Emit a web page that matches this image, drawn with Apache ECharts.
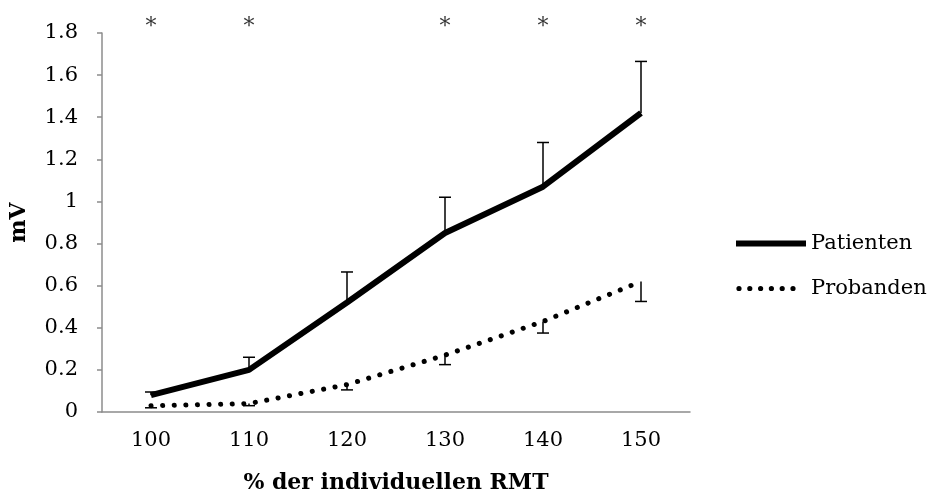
<!DOCTYPE html>
<html>
<head>
<meta charset="utf-8">
<script src="https://cdn.jsdelivr.net/npm/echarts@6/dist/echarts.min.js"></script>
<style>
html, body { margin: 0; padding: 0; background: #fff; }
#main { width: 936px; height: 495px; }
</style>
</head>
<body>
<div id="main"></div>
<script>
// Daten ---------------------------------------------------------------
var categories = ['100', '110', '120', '130', '140', '150'];
var patienten = [0.08, 0.20, 0.52, 0.85, 1.07, 1.42];
var patientenOben = [0.095, 0.26, 0.665, 1.02, 1.28, 1.665];
var probanden = [0.03, 0.04, 0.13, 0.27, 0.43, 0.62];
var probandenUnten = [0.02, 0.03, 0.105, 0.225, 0.375, 0.525];
var signifikant = ['100', '110', '130', '140', '150'];

var fontFam = 'DejaVu Serif';
var axisGray = '#8c8c8c';

var myChart = echarts.init(document.getElementById('main'));

// Fehlerbalken
function errBars(vals, ends) {
    var d = [];
    for (var i = 0; i < vals.length; i++) {
        d.push([i, vals[i], ends[i]]);
    }
    return d;
}
function renderErr(params, api) {
    var p1 = api.coord([api.value(0), api.value(1)]);
    var p2 = api.coord([api.value(0), api.value(2)]);
    var half = 6;
    return {
        type: 'group',
        children: [
            { type: 'line', shape: { x1: p1[0], y1: p1[1], x2: p2[0], y2: p2[1] }, style: { stroke: '#000', lineWidth: 1.5 } },
            { type: 'line', shape: { x1: p2[0] - half, y1: p2[1], x2: p2[0] + half, y2: p2[1] }, style: { stroke: '#000', lineWidth: 1.5 } }
        ]
    };
}

// Legenden-Icon: Punktlinie (Box 70x6)
var dotIcon = 'path://M0,0L0,0M70,6L70,6';
for (var k = 0; k < 6; k++) {
    var cx = 3 + k * 10.8;
    dotIcon += 'M' + (cx - 2.6) + ',3a2.6,2.6 0 1,0 5.2,0a2.6,2.6 0 1,0 -5.2,0Z';
}

var solidLine = { color: '#000', width: 6 };
var dotLine = { color: '#000', width: 5, type: [0.1, 11.5], cap: 'round' };

var option = {
    animation: false,
    backgroundColor: '#fff',
    grid: {
        left: 102,
        right: 246,
        top: 33,
        bottom: 83,
        outerBoundsMode: 'none'
    },
    legend: {
        orient: 'vertical',
        left: 731,
        top: 228,
        itemWidth: 70,
        itemHeight: 6,
        itemGap: 24,
        data: [
            { name: 'Patienten', icon: 'rect' },
            { name: 'Probanden', icon: dotIcon }
        ],
        textStyle: { fontFamily: fontFam, fontSize: 21, color: '#000' }
    },
    xAxis: {
        type: 'category',
        data: categories,
        name: '% der individuellen RMT',
        nameLocation: 'middle',
        nameGap: 60,
        nameTextStyle: { fontFamily: fontFam, fontSize: 22, fontWeight: 'bold', color: '#000' },
        axisLine: { lineStyle: { color: axisGray, width: 1.5 } },
        axisTick: { length: 5, lineStyle: { color: axisGray, width: 1.5 } },
        axisLabel: { margin: 18, fontFamily: fontFam, fontSize: 21, color: '#000' }
    },
    yAxis: {
        type: 'value',
        min: 0,
        max: 1.8,
        interval: 0.2,
        name: 'mV',
        nameLocation: 'middle',
        nameGap: 72,
        nameRotate: 90,
        nameTextStyle: { fontFamily: fontFam, fontSize: 22, fontWeight: 'bold', color: '#000' },
        axisLine: { show: true, lineStyle: { color: axisGray, width: 1.5 } },
        axisTick: { show: true, length: 5, lineStyle: { color: axisGray, width: 1.5 } },
        splitLine: { show: false },
        axisLabel: {
            margin: 24,
            fontFamily: fontFam,
            fontSize: 21,
            color: '#000',
            formatter: function (v) { return String(Math.round(v * 10) / 10); }
        }
    },
    series: [
        {
            name: 'Patienten',
            type: 'line',
            data: patienten,
            symbol: 'none',
            color: '#000',
            lineStyle: solidLine,
            z: 3
        },
        {
            name: 'Probanden',
            type: 'line',
            data: probanden,
            symbol: 'none',
            color: '#000',
            lineStyle: dotLine,
            z: 3
        },
        {
            type: 'custom',
            data: errBars(patienten, patientenOben),
            renderItem: renderErr,
            z: 2
        },
        {
            type: 'custom',
            data: errBars(probanden, probandenUnten),
            renderItem: renderErr,
            z: 2
        },
        {
            type: 'scatter',
            data: signifikant.map(function (c) { return [c, 1.8]; }),
            symbolSize: 0,
            clip: false,
            silent: true,
            label: {
                show: true,
                position: 'top',
                distance: 0,
                offset: [0, 5],
                formatter: '*',
                fontFamily: fontFam,
                fontSize: 22,
                color: '#000'
            }
        }
    ]
};
option && myChart.setOption(option);
</script>
</body>
</html>
